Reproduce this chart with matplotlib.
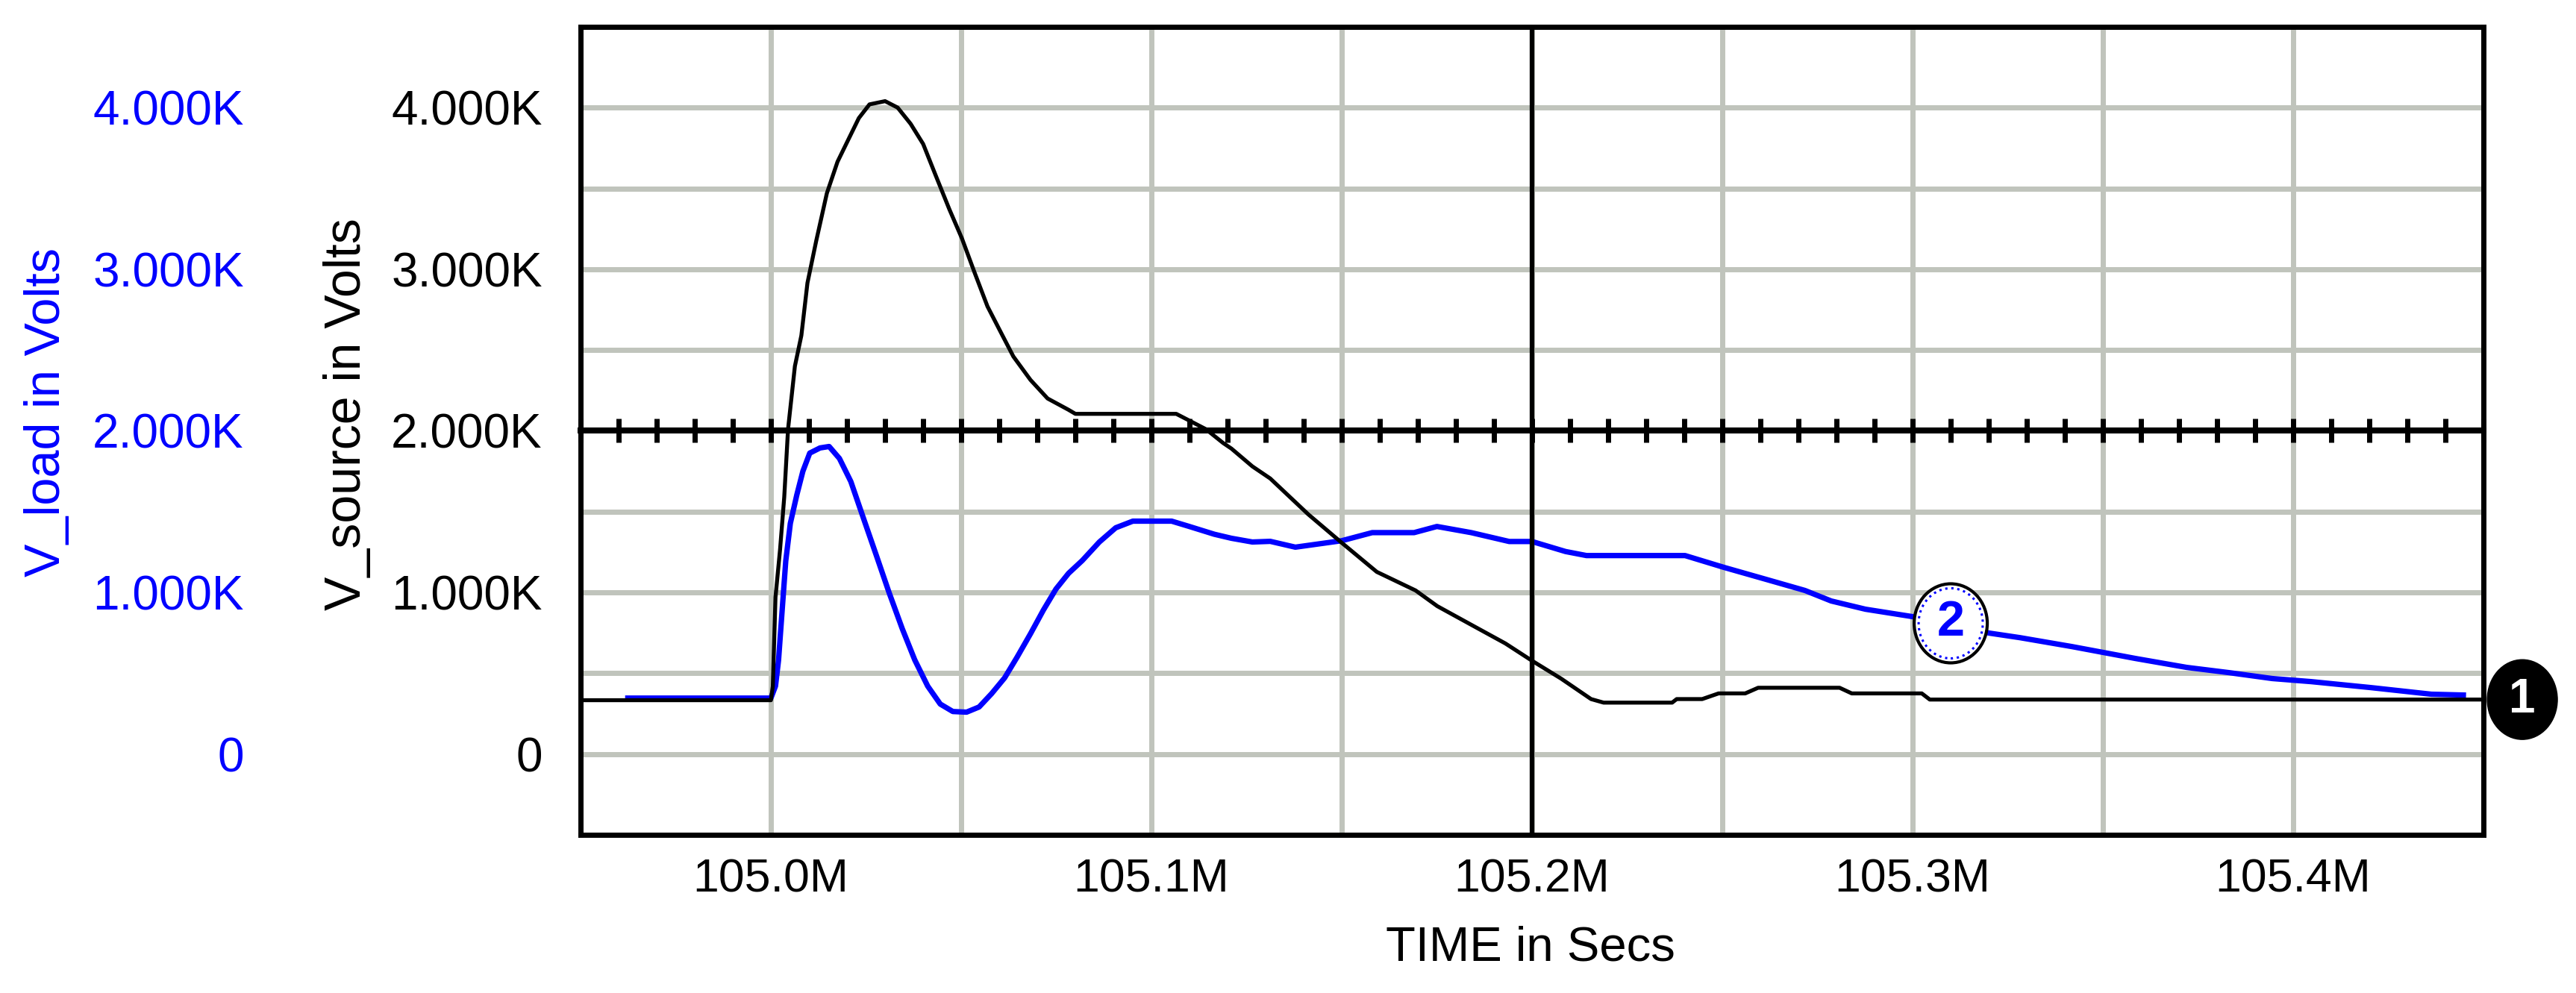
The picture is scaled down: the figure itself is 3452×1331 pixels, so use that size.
import numpy as np
import matplotlib.pyplot as plt
from matplotlib.ticker import MultipleLocator, FuncFormatter, FixedLocator
from matplotlib.patches import Ellipse
from matplotlib.transforms import ScaledTranslation

# V_source (black trace), time in ms
t_src = [104.95, 105.0, 105.0005, 105.0012, 105.0024, 105.0035, 105.0045, 105.0063,
         105.008, 105.0096, 105.0119, 105.0147, 105.0175, 105.0204, 105.0231, 105.0259,
         105.03, 105.0333, 105.0367, 105.04, 105.0433, 105.0469, 105.0502, 105.0535,
         105.0569, 105.0604, 105.0637, 105.0682, 105.0727, 105.0782, 105.08, 105.1065,
         105.1098, 105.1143, 105.1188, 105.121, 105.1265, 105.1312, 105.1412, 105.15,
         105.1592, 105.1694, 105.1751, 105.184, 105.193, 105.2, 105.2076, 105.2155,
         105.2188, 105.2368, 105.238, 105.2447, 105.249, 105.256, 105.2594, 105.2808,
         105.284, 105.3024, 105.3045, 105.45]
v_src = [333, 333, 420, 970, 1265, 1590, 2010, 2400,
         2590, 2915, 3175, 3470, 3665, 3805, 3935, 4020,
         4040, 4000, 3900, 3775, 3580, 3370, 3190, 2980,
         2770, 2610, 2460, 2315, 2200, 2130, 2105, 2105,
         2065, 2010, 1925, 1890, 1780, 1705, 1483, 1307,
         1127, 1012, 915, 800, 684, 577, 467, 340,
         318, 318, 340, 340, 375, 375, 410, 410,
         375, 375, 337, 337]

# V_load (blue trace)
t_load = [104.9624, 105.0, 105.0012, 105.002, 105.0029, 105.0039, 105.0051, 105.0068,
          105.0084, 105.0102, 105.0129, 105.0153, 105.018, 105.021, 105.0243, 105.0277,
          105.031, 105.0345, 105.0378, 105.0412, 105.0445, 105.0478, 105.0514, 105.0547,
          105.058, 105.0614, 105.0647, 105.0682, 105.0716, 105.0749, 105.0782, 105.0818,
          105.0863, 105.0906, 105.0951, 105.1053, 105.1098, 105.1165, 105.121, 105.1265,
          105.1312, 105.1378, 105.15, 105.158, 105.169, 105.175, 105.184, 105.194,
          105.2, 105.2088, 105.2143, 105.2402, 105.2504, 105.2616, 105.2717, 105.2786,
          105.2876, 105.3, 105.3202, 105.3282, 105.3418, 105.3586, 105.372, 105.3833,
          105.3945, 105.4047, 105.4204, 105.4363, 105.4447]
v_load = [346, 346, 420, 580, 873, 1195, 1427, 1603,
          1750, 1862, 1894, 1903, 1829, 1686, 1460, 1229,
          1002, 776, 582, 420, 309, 263, 259, 291,
          374, 471, 600, 744, 891, 1021, 1118, 1197,
          1312, 1400, 1441, 1441, 1409, 1360, 1335, 1312,
          1316, 1280, 1320, 1370, 1370, 1408, 1370, 1315,
          1315, 1253, 1228, 1228, 1155, 1080, 1012, 947,
          896, 850, 748, 720, 665, 591, 536, 503,
          467, 448, 411, 370, 365]

x_range = (104.95, 105.45)
y_range = (-500, 4500)
x_labels = [105.0, 105.1, 105.2, 105.3, 105.4]
y_labels = [0, 1000, 2000, 3000, 4000]
ref_level = 2000      # horizontal line with small ticks
cursor_time = 105.2   # vertical cursor line
tag2_time = 105.31

BLUE = '#0000ff'
GRID = '#c0c4bc'
plt.rcParams['font.family'] = ['Liberation Sans', 'DejaVu Sans']


def kfmt(v, pos=None):
    return '0' if v == 0 else '%.3fK' % (v / 1000)


fig = plt.figure(figsize=(34.52, 13.31), dpi=100)
pos = [0.2254, 0.1593, 0.7387, 0.8137]

# bottom layer: grid, blue trace, blue axis, frame
ax_load = fig.add_axes(pos)
ax_load.set_xlim(*x_range)
ax_load.set_ylim(*y_range)
ax_load.xaxis.set_major_locator(FixedLocator(x_labels))
ax_load.xaxis.set_minor_locator(MultipleLocator(0.05))
ax_load.xaxis.set_major_formatter(FuncFormatter(lambda v, p: '%.1fM' % v))
ax_load.yaxis.set_major_locator(FixedLocator(y_labels))
ax_load.yaxis.set_minor_locator(MultipleLocator(500))
ax_load.yaxis.set_major_formatter(FuncFormatter(kfmt))
ax_load.grid(True, which='both', color=GRID, lw=5)
ax_load.set_axisbelow(True)
ax_load.tick_params(which='both', length=0)
ax_load.tick_params(axis='x', pad=22, labelsize=45)
ax_load.tick_params(axis='y', pad=325, labelsize=46, labelcolor=BLUE)
for sp in ax_load.spines.values():
    sp.set_linewidth(5)
    sp.set_color('black')
ax_load.plot(t_load, v_load, color=BLUE, lw=5.2)

# top layer: black trace, black axis, reference line, cursor
ax_src = fig.add_axes(pos, facecolor='none')
ax_src.set_xlim(*x_range)
ax_src.set_ylim(*y_range)
ax_src.yaxis.set_major_locator(FixedLocator(y_labels))
ax_src.yaxis.set_major_formatter(FuncFormatter(kfmt))
ax_src.tick_params(axis='y', length=0, pad=37, labelsize=46)
ax_src.xaxis.set_ticks_position('top')
ax_src.xaxis.set_major_locator(MultipleLocator(0.01))
ax_src.tick_params(axis='x', direction='inout', length=23, width=5,
                   labeltop=False, labelbottom=False)
ax_src.spines['top'].set_position(('data', ref_level))
ax_src.spines['top'].set_linewidth(5.8)
for s in ['left', 'right', 'bottom']:
    ax_src.spines[s].set_visible(False)
ax_src.axvline(cursor_time, color='black', lw=4.5)
ax_src.plot(t_src, v_src, color='black', lw=3.8)

# trace tags
tr1 = fig.dpi_scale_trans + ScaledTranslation(t_src[-1], v_src[-1], ax_src.transData)
ax_src.add_patch(Ellipse((0.52, 0), 0.94, 1.07, transform=tr1, fc='black',
                         ec='black', clip_on=False, zorder=5))
ax_src.text(0.52, 0, '1', transform=tr1, color='white', fontsize=46,
            fontweight='bold', ha='center', va='center', zorder=6)

v_tag2 = np.interp(tag2_time, t_load, v_load)
tr2 = fig.dpi_scale_trans + ScaledTranslation(tag2_time, v_tag2, ax_src.transData)
ax_src.add_patch(Ellipse((0, 0.02), 0.98, 1.06, transform=tr2, fc='white',
                         ec='black', lw=3, clip_on=False, zorder=5))
ax_src.add_patch(Ellipse((0, 0.02), 0.86, 0.94, transform=tr2, fc='none',
                         ec=BLUE, lw=2.2, ls=':', clip_on=False, zorder=5))
ax_src.text(0, 0.02, '2', transform=tr2, color=BLUE, fontsize=48,
            fontweight='bold', ha='center', va='center', zorder=6)

fig.text(63 / 3452, 1 - 552 / 1331, 'V_load in Volts', color=BLUE, fontsize=48,
         rotation=90, ha='center', va='center')
fig.text(465 / 3452, 1 - 555 / 1331, 'V_source in Volts', color='black', fontsize=49,
         rotation=90, ha='center', va='center')
fig.text(2051 / 3452, 1 - 1271 / 1331, 'TIME in Secs', color='black', fontsize=47,
         ha='center', va='center')

fig.savefig('out.png', dpi=100)
